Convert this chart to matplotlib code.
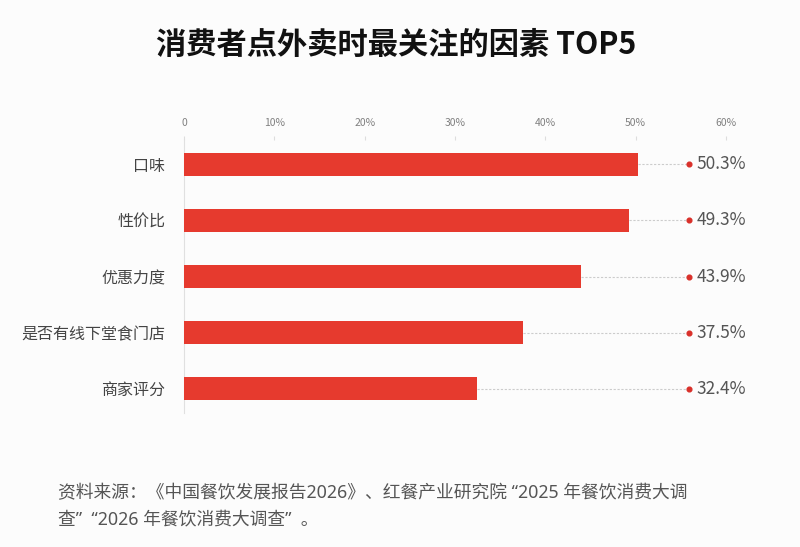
import matplotlib
matplotlib.use("Agg")
import matplotlib.pyplot as plt

plt.rcParams['font.family'] = ['Noto Sans CJK SC', 'DejaVu Sans']

categories = ["口味", "性价比", "优惠力度", "是否有线下堂食门店", "商家评分"]
values = [50.3, 49.3, 43.9, 37.5, 32.4]
tick_values = [0, 10, 20, 30, 40, 50, 60]
tick_labels = ["0", "10%", "20%", "30%", "40%", "50%", "60%"]
title = "消费者点外卖时最关注的因素 TOP5"
source = "资料来源：《中国餐饮发展报告2026》、红餐产业研究院 “2025 年餐饮消费大调\n查”  “2026 年餐饮消费大调查”  。"

W, H = 800, 547
fig = plt.figure(figsize=(W / 100, H / 100), dpi=100)
fig.patch.set_facecolor("#fcfcfc")

left, right, top, bottom = 184, 726, 140, 413
ax = fig.add_axes([left / W, 1 - bottom / H, (right - left) / W, (bottom - top) / H])
ax.set_facecolor("none")

ypos = list(range(len(categories)))
bar_color = "#E63A2E"
ax.barh(ypos, values, height=0.41, color=bar_color, zorder=3)

dot_x = 55.9
for y, v in zip(ypos, values):
    ax.plot([v, dot_x], [y, y], color="#cccccc", lw=0.8, ls=(0, (2, 1.5)), zorder=2)
    ax.plot([dot_x], [y], "o", color="#D9302A", ms=3.4, zorder=4)
    ax.text(dot_x + 0.85, y, f"{v:.1f}%", va="center", ha="left", fontsize=12.5, color="#555555")

ax.set_xlim(0, 60)
ax.set_ylim(len(categories) - 1 + 0.43, -0.43)
ax.set_yticks(ypos)
ax.set_yticklabels(categories, fontsize=11.5, color="#444444")
ax.tick_params(axis="y", length=0, pad=13.5)

ax.xaxis.tick_top()
ax.set_xticks(tick_values)
ax.set_xticklabels(tick_labels, fontsize=7.5, color="#808080")
ax.tick_params(axis="x", length=3, color="#dddddd", pad=6)

for s in ["top", "right", "bottom"]:
    ax.spines[s].set_visible(False)
ax.spines["left"].set_color("#e0e0e0")
ax.spines["left"].set_linewidth(0.8)

fig.text(396 / W, 1 - 45 / H, title, ha="center", va="center", fontsize=21.8, fontweight="bold", color="#111111")
fig.text(58 / W, 1 - 484 / H, source, ha="left", va="top", fontsize=12.8, color="#555555",
         linespacing=1.57, family=['Noto Sans', 'Noto Sans CJK SC'])

fig.savefig("out.png", dpi=100, facecolor=fig.get_facecolor())
